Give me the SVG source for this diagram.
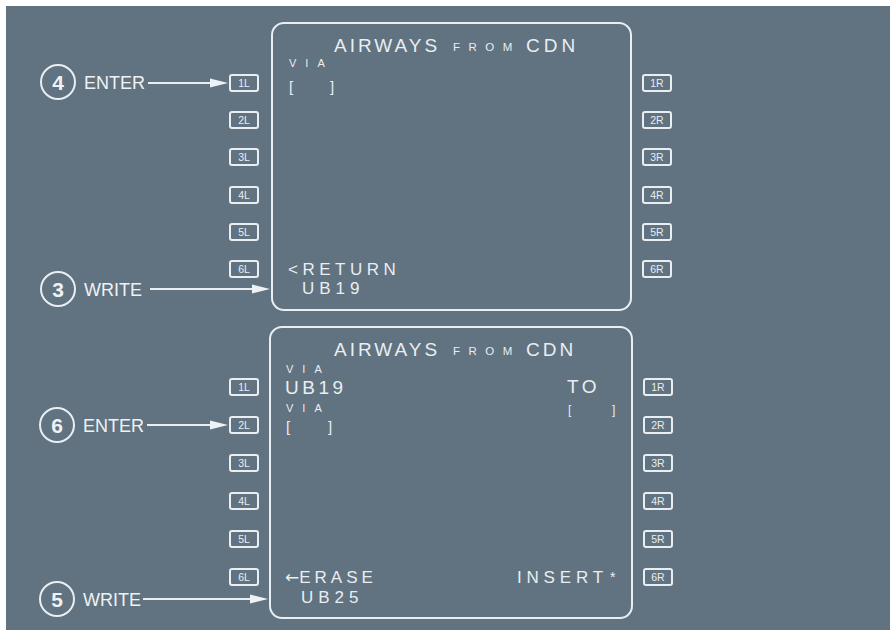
<svg xmlns="http://www.w3.org/2000/svg" width="890" height="630" viewBox="0 0 890 630">
<defs>
<style>
.bg{fill:#617280}
.ln{fill:none;stroke:#e8eef2;stroke-width:2}
.key{fill:none;stroke:#e8eef2;stroke-width:2}
.kt{fill:#e8eef2;font-family:"Liberation Sans",Arial,sans-serif;font-size:10.5px;text-anchor:middle}
.lbl{fill:#eef2f5;font-family:"Liberation Sans",Arial,sans-serif;font-size:18px}
.num{fill:#eef2f5;font-family:"Liberation Sans",Arial,sans-serif;font-size:21px;font-weight:bold;text-anchor:middle}
.scr{fill:#e8eef2;font-family:"Liberation Sans",Arial,sans-serif}
.big{font-size:19px;letter-spacing:3px}
.med{font-size:17px;letter-spacing:4.5px}
.sm{font-size:11px;letter-spacing:9px}
.br{font-size:15px}
.ah{fill:#eef2f5}
</style>
</defs>
<rect x="0" y="0" width="890" height="630" fill="#ffffff"/>
<rect class="bg" x="6" y="6" width="884" height="624"/>

<g id="panel-top">
<rect class="ln" x="272" y="23" width="359" height="287" rx="12"/>
<text class="scr big" x="334" y="52">AIRWAYS</text>
<text class="scr" x="453" y="51" style="font-size:11.5px;letter-spacing:8.5px">FROM</text>
<text class="scr big" x="526" y="52" style="letter-spacing:4px">CDN</text>
<text class="scr sm" x="289" y="67">VIA</text>
<text class="scr br" x="289" y="92"><tspan x="289">[</tspan><tspan x="330">]</tspan></text>
<text class="scr med" x="288" y="275">&lt;RETURN</text>
<text class="scr med" x="302" y="294" style="letter-spacing:5px">UB19</text>
</g>

<g id="panel-bottom">
<rect class="ln" x="270" y="327" width="362" height="291" rx="12"/>
<text class="scr big" x="334" y="356">AIRWAYS</text>
<text class="scr" x="453" y="355" style="font-size:11.5px;letter-spacing:8.5px">FROM</text>
<text class="scr big" x="526" y="356" style="letter-spacing:3px">CDN</text>
<text class="scr sm" x="286" y="373">VIA</text>
<text class="scr big" x="285" y="394" style="letter-spacing:3.5px">UB19</text>
<text class="scr sm" x="286" y="412">VIA</text>
<text class="scr br" x="286" y="432"><tspan x="286">[</tspan><tspan x="328">]</tspan></text>
<text class="scr big" x="567" y="393" style="letter-spacing:3.5px">TO</text>
<text class="scr" x="568" y="414" style="font-size:12px"><tspan x="568">[</tspan><tspan x="612">]</tspan></text>
<text class="scr med" x="285" y="583" style="letter-spacing:4px"><tspan style="font-family:'DejaVu Sans',sans-serif;letter-spacing:0px">←</tspan>ERASE</text>
<text class="scr med" x="301" y="603" style="letter-spacing:5px">UB25</text>
<text class="scr med" x="517" y="583" style="letter-spacing:4.8px">INSERT</text>
<text class="scr" x="610" y="582" style="font-size:14px">*</text>
</g>

<g id="keys-top-left">
<rect class="key" x="230" y="75" width="28" height="16" rx="2"/><text class="kt" x="244" y="87">1L</text>
<rect class="key" x="230" y="112" width="28" height="16" rx="2"/><text class="kt" x="244" y="124">2L</text>
<rect class="key" x="230" y="149" width="28" height="16" rx="2"/><text class="kt" x="244" y="161">3L</text>
<rect class="key" x="230" y="187" width="28" height="16" rx="2"/><text class="kt" x="244" y="199">4L</text>
<rect class="key" x="230" y="224" width="28" height="16" rx="2"/><text class="kt" x="244" y="236">5L</text>
<rect class="key" x="230" y="261" width="28" height="16" rx="2"/><text class="kt" x="244" y="273">6L</text>
</g>
<g id="keys-top-right">
<rect class="key" x="643" y="75" width="28" height="16" rx="2"/><text class="kt" x="657" y="87">1R</text>
<rect class="key" x="643" y="112" width="28" height="16" rx="2"/><text class="kt" x="657" y="124">2R</text>
<rect class="key" x="643" y="149" width="28" height="16" rx="2"/><text class="kt" x="657" y="161">3R</text>
<rect class="key" x="643" y="187" width="28" height="16" rx="2"/><text class="kt" x="657" y="199">4R</text>
<rect class="key" x="643" y="224" width="28" height="16" rx="2"/><text class="kt" x="657" y="236">5R</text>
<rect class="key" x="643" y="261" width="28" height="16" rx="2"/><text class="kt" x="657" y="273">6R</text>
</g>
<g id="keys-bottom-left">
<rect class="key" x="230" y="379" width="28" height="16" rx="2"/><text class="kt" x="244" y="391">1L</text>
<rect class="key" x="230" y="417" width="28" height="16" rx="2"/><text class="kt" x="244" y="429">2L</text>
<rect class="key" x="230" y="455" width="28" height="16" rx="2"/><text class="kt" x="244" y="467">3L</text>
<rect class="key" x="230" y="493" width="28" height="16" rx="2"/><text class="kt" x="244" y="505">4L</text>
<rect class="key" x="230" y="531" width="28" height="16" rx="2"/><text class="kt" x="244" y="543">5L</text>
<rect class="key" x="230" y="569" width="28" height="16" rx="2"/><text class="kt" x="244" y="581">6L</text>
</g>
<g id="keys-bottom-right">
<rect class="key" x="644" y="379" width="28" height="16" rx="2"/><text class="kt" x="658" y="391">1R</text>
<rect class="key" x="644" y="417" width="28" height="16" rx="2"/><text class="kt" x="658" y="429">2R</text>
<rect class="key" x="644" y="455" width="28" height="16" rx="2"/><text class="kt" x="658" y="467">3R</text>
<rect class="key" x="644" y="493" width="28" height="16" rx="2"/><text class="kt" x="658" y="505">4R</text>
<rect class="key" x="644" y="531" width="28" height="16" rx="2"/><text class="kt" x="658" y="543">5R</text>
<rect class="key" x="644" y="569" width="28" height="16" rx="2"/><text class="kt" x="658" y="581">6R</text>
</g>

<g id="step4">
<circle class="ln" cx="58" cy="82" r="17"/>
<text class="num" x="58" y="89.5">4</text>
<text class="lbl" x="84" y="89">ENTER</text>
</g>
<g id="step3">
<circle class="ln" cx="58" cy="289" r="17"/>
<text class="num" x="58" y="296.5">3</text>
<text class="lbl" x="84" y="296">WRITE</text>
</g>
<g id="step6">
<circle class="ln" cx="57" cy="425" r="17"/>
<text class="num" x="57" y="432.5">6</text>
<text class="lbl" x="83" y="432">ENTER</text>
</g>
<g id="step5">
<circle class="ln" cx="57" cy="599" r="17"/>
<text class="num" x="57" y="606.5">5</text>
<text class="lbl" x="83" y="606">WRITE</text>
</g>

<g id="connectors">
<line class="ln" x1="148" y1="83" x2="214" y2="83"/>
<polygon class="ah" points="228,83 210,78.5 210,87.5"/>
<line class="ln" x1="150" y1="289" x2="256" y2="289"/>
<polygon class="ah" points="270,289 252,284.5 252,293.5"/>
<line class="ln" x1="147" y1="425" x2="214" y2="425"/>
<polygon class="ah" points="228,425 210,420.5 210,429.5"/>
<line class="ln" x1="143" y1="599" x2="254" y2="599"/>
<polygon class="ah" points="268,599 250,594.5 250,603.5"/>
</g>
</svg>
